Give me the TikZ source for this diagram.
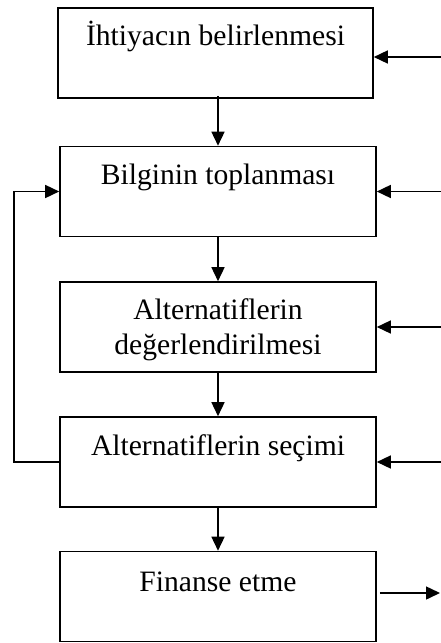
\documentclass[tikz,border=0pt]{standalone}
\usepackage{fontspec}
\setmainfont{Liberation Serif}
\usetikzlibrary{arrows.meta}
\begin{document}
\begin{tikzpicture}[x=1pt,y=-1pt,
  box/.style={draw, line width=1.6pt, rectangle, minimum height=90pt, inner sep=0pt},
  lbl/.style={anchor=base, align=center, font=\fontsize{29.6}{35}\selectfont},
  arr/.style={line width=1.5pt, -{Triangle[length=14pt,width=13pt]}}]
  \useasboundingbox (0,0) rectangle (440,643);

  % process boxes
  \node[box, minimum width=315pt] (b1) at (215.5,53) {};
  \node[box, minimum width=316pt] (b2) at (218,191.5) {};
  \node[box, minimum width=316pt] (b3) at (218,327) {};
  \node[box, minimum width=316pt] (b4) at (218,462) {};
  \node[box, minimum width=316pt] (b5) at (218,596.5) {};

  % box captions
  \node[lbl] (t1) at (215.5,45) {İhtiyacın belirlenmesi};
  \node[lbl] (t2) at (218,184) {Bilginin toplanması};
  \node[lbl] (t3a) at (218,319) {Alternatiflerin};
  \node[lbl] (t3b) at (218,354) {değerlendirilmesi};
  \node[lbl] (t4) at (218,455) {Alternatiflerin seçimi};
  \node[lbl] (t5) at (218,591) {Finanse etme};

  % main flow
  \draw[arr] ([yshift=3pt]b1.south -| b2.north) -- (b2.north);
  \draw[arr] (b2.south) -- (b3.north);
  \draw[arr] (b3.south) -- (b4.north);
  \draw[arr] (b4.south) -- (b5.north);

  % feedback loop from selection back to information gathering
  \coordinate (fbl) at (14,462);
  \coordinate (fbu) at (14,191.5);
  \draw[arr] (b4.west) -- (fbl) -- (fbu) -- (b2.west);

  % incoming inputs on the right
  \coordinate (r1) at (441,57);
  \coordinate (r2) at (441,191.5);
  \coordinate (r3) at (441,327);
  \coordinate (r4) at (441,462);
  \draw[arr] (r1) -- (r1 -| b1.east);
  \draw[arr] (r2) -- (b2.east);
  \draw[arr] (r3) -- (b3.east);
  \draw[arr] (r4) -- (b4.east);

  % outgoing result
  \coordinate (o5) at (440,593);
  \draw[arr] ([xshift=3pt]b5.east |- o5) -- (o5);
\end{tikzpicture}
\end{document}
